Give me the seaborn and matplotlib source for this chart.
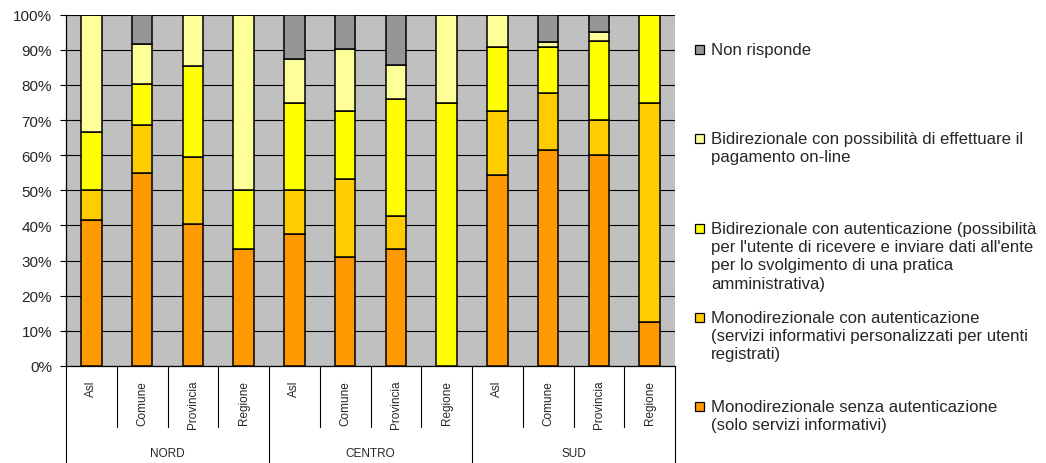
import pandas as pd
import seaborn as sns
import matplotlib.pyplot as plt
from matplotlib.patches import Rectangle

# -----------------------------
# Data (percentages)
# -----------------------------
groups = ['NORD', 'CENTRO', 'SUD']
enti = ['Asl', 'Comune', 'Provincia', 'Regione']

mono_senza = [41.7, 54.8, 40.3, 33.3, 37.5, 31.1, 33.3, 0.0, 54.5, 61.4, 60.0, 12.5]
mono_con = [8.3, 13.7, 19.1, 0.0, 12.5, 22.2, 9.5, 0.0, 18.2, 16.3, 10.0, 62.5]
bidir_aut = [16.7, 11.7, 26.1, 16.7, 25.0, 19.3, 33.3, 75.0, 18.2, 13.0, 22.5, 25.0]
bidir_pag = [33.3, 11.6, 14.5, 50.0, 12.5, 17.6, 9.5, 25.0, 9.1, 1.4, 2.5, 0.0]
non_risp = [0.0, 8.2, 0.0, 0.0, 12.5, 9.8, 14.3, 0.0, 0.0, 7.9, 5.0, 0.0]

series_names = [
    'Monodirezionale senza autenticazione\n(solo servizi informativi)',
    'Monodirezionale con autenticazione\n(servizi informativi personalizzati per utenti\nregistrati)',
    "Bidirezionale con autenticazione (possibilità\nper l'utente di ricevere e inviare dati all'ente\nper lo svolgimento di una pratica\namministrativa)",
    'Bidirezionale con possibilità di effettuare il\npagamento on-line',
    'Non risponde',
]
series_values = [mono_senza, mono_con, bidir_aut, bidir_pag, non_risp]
colors = ['#FF9900', '#FFCC00', '#FFFF00', '#FFFF99', '#969696']

keys = [f'{g} {e}' for g in groups for e in enti]
rows = []
for name, vals in zip(series_names, series_values):
    for k, v in zip(keys, vals):
        rows.append({'bar': k, 'serie': name, 'value': v})
df = pd.DataFrame(rows)

# -----------------------------
# Style
# -----------------------------
sns.set_style('white')
plt.rcParams['font.family'] = ['Liberation Sans', 'DejaVu Sans']

W, H = 1046, 464
fig = plt.figure(figsize=(W / 100, H / 100), dpi=100)
ax_left, ax_right, ax_top, ax_bot = 66, 675, 15.7, 367
ax = fig.add_axes([ax_left / W, (H - ax_bot) / H,
                   (ax_right - ax_left) / W, (ax_bot - ax_top) / H])
ax.set_facecolor('#C0C0C0')
ax_h = ax_bot - ax_top

# -----------------------------
# Stacked bars
# -----------------------------
bottom = [0.0] * len(keys)
for name, color in zip(series_names, colors):
    sub = df[df['serie'] == name]
    sns.barplot(data=sub, x='bar', y='value', order=keys, color=color,
                saturation=1, width=0.4, errorbar=None, bottom=bottom,
                edgecolor='black', linewidth=1.1, ax=ax, zorder=3)
    bottom = [b + v for b, v in zip(bottom, sub['value'])]

ax.set_xlim(-0.5, len(keys) - 0.5)
ax.set_ylim(0, 100)
ax.set_yticks(range(0, 101, 10))
ax.set_yticklabels([f'{t}%' for t in range(0, 101, 10)], fontsize=11)
ax.yaxis.grid(True, color='black', linewidth=0.8, zorder=0)
ax.set_axisbelow(True)
ax.tick_params(axis='y', left=True, length=4, width=0.8, color='black', pad=6)
ax.tick_params(axis='x', bottom=False, labelbottom=False)
ax.set_xlabel('')
ax.set_ylabel('')
for s in ['top', 'right']:
    ax.spines[s].set_visible(False)
for s in ['left', 'bottom']:
    ax.spines[s].set_color('black')
    ax.spines[s].set_linewidth(0.9)

# -----------------------------
# Two-level category axis
# -----------------------------
tr = ax.get_xaxis_transform()
sub_len = (428 - ax_bot) / ax_h
grp_len = (H - ax_bot) / ax_h
for i in range(len(keys) + 1):
    xb = i - 0.5
    is_group = i % len(enti) == 0
    ln = grp_len if is_group else sub_len
    ax.plot([xb, xb], [0, -ln], transform=tr, color='black', lw=0.8,
            clip_on=False)

for i, k in enumerate(keys):
    ax.text(i, -(381 - ax_bot) / ax_h, enti[i % len(enti)], transform=tr,
            rotation=90, ha='center', va='top', fontsize=8.5)

for gi, g in enumerate(groups):
    xc = gi * len(enti) + (len(enti) - 1) / 2
    ax.text(xc, -(454 - ax_bot) / ax_h, g, transform=tr,
            ha='center', va='center', fontsize=8.5)

# -----------------------------
# Legend (top to bottom, Excel-style spacing)
# -----------------------------
legend_y = [50, 139, 229, 318, 407]
for yc, name, color in zip(legend_y, series_names[::-1], colors[::-1]):
    fig.patches.append(Rectangle((695 / W, 1 - (yc + 4.5) / H), 9 / W, 9 / H,
                                 transform=fig.transFigure, facecolor=color,
                                 edgecolor='black', linewidth=0.9))
    fig.text(711 / W, 1 - (yc - 7) / H, name, ha='left', va='top',
             fontsize=12.1, linespacing=1.27)

plt.savefig('out.png', dpi=100)
plt.close()
